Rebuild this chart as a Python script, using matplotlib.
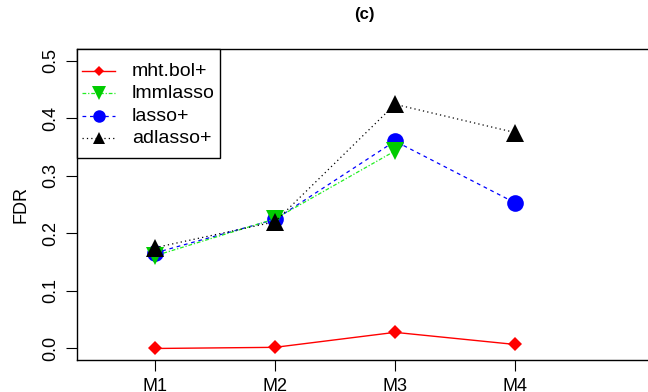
import numpy as np
import matplotlib
matplotlib.use("Agg")
import matplotlib.pyplot as plt
from matplotlib.patches import Rectangle

plt.rcParams['font.family'] = ['Liberation Sans', 'DejaVu Sans']

models = ["M1", "M2", "M3", "M4"]
mht_bol = [0.0, 0.002, 0.028, 0.007]
lmmlasso = [0.161, 0.225, 0.343, np.nan]
lasso = [0.166, 0.224, 0.360, 0.253]
adlasso = [0.175, 0.220, 0.424, 0.375]

x = np.arange(1, len(models) + 1)

W, H = 648, 392
fig = plt.figure(figsize=(W / 100, H / 100), dpi=100)
ax_l, ax_r, ax_t, ax_b = 77, 652, 49, 360
ax = fig.add_axes([ax_l / W, 1 - ax_b / H, (ax_r - ax_l) / W, (ax_b - ax_t) / H])

# series styles: label, data, color, linestyle, marker, size, face, zorder, legend marker size
series = [
    ("mht.bol+", mht_bol, "red", "-", "D", 7.5, "red", 3, 5),
    ("lmmlasso", lmmlasso, "#22ee22", (0, (3, 1.5, 1, 1.5)), "v", 12.5, "#00cc00", 5, 10),
    ("lasso+", lasso, "blue", (0, (3, 3)), "o", 12, "blue", 4, 9),
    ("adlasso+", adlasso, "black", (0, (1, 2.5)), "^", 12.5, "black", 6, 8),
]

for lab, y, c, ls, m, ms, fc, z, _ in series:
    ax.plot(x, y, color=c, lw=1 if ls == "-" else 0.9, ls=ls, marker=m, ms=ms,
            markerfacecolor=fc, markeredgewidth=0, zorder=z, label=lab)

ax.set_xlim(1 - (155 - ax_l) / 120, 1 + (ax_r - 155) / 120)
ax.set_ylim(-0.02, 0.52)
ax.set_xticks(x)
ax.set_xticklabels(models, fontsize=13)
ax.set_yticks([0.0, 0.1, 0.2, 0.3, 0.4, 0.5])
ax.set_yticklabels(["0.0", "0.1", "0.2", "0.3", "0.4", "0.5"], fontsize=13,
                   rotation=90, va="center")
ax.tick_params(length=8, width=0.8, pad=5)
ax.set_ylabel("FDR", fontsize=13, labelpad=9)
for s in ["left", "bottom", "top"]:
    ax.spines[s].set_linewidth(1)
ax.spines["right"].set_visible(False)

# legend drawn by hand (R-style box) on an overlay in pixel units
lg = fig.add_axes([0, 0, 1, 1])
lg.set_xlim(0, W)
lg.set_ylim(H, 0)
lg.axis("off")
lg.add_patch(Rectangle((77, 49), 143, 109, facecolor="white", edgecolor="black", lw=1))
rows = [71, 93.3, 116, 138.3]
for (lab, y, c, ls, m, ms, fc, z, lms), ry in zip(series, rows):
    lg.plot([82, 115], [ry, ry], color=c, lw=1 if ls == "-" else 0.9, ls=ls)
    lg.plot([98.5], [ry], marker=m, ms=lms, color=fc, markeredgewidth=0, ls="none")
    lg.text(132, ry, lab, fontsize=14, va="center", ha="left")

fig.text(364 / W, 1 - 15 / H, "(c)", fontsize=12, fontweight="bold", ha="center", va="center")

fig.savefig("out.png", dpi=100)
